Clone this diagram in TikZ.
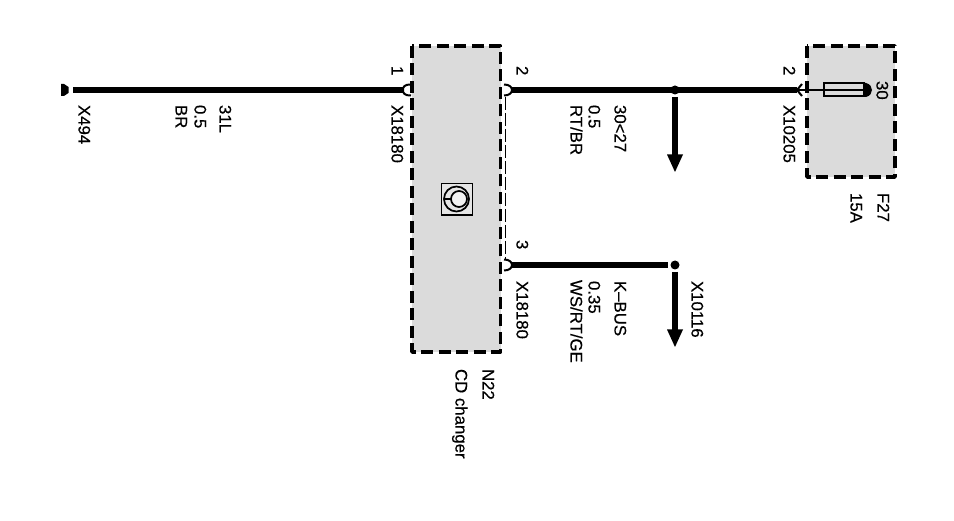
\documentclass[tikz,border=0pt]{standalone}
\usepackage{fontspec}
\setmainfont[FakeBold=0.4]{Liberation Sans}
\usetikzlibrary{calc}
\tikzset{
  x=1pt,y=-1pt,
  lbl/.style={rotate=-90,anchor=base west,inner sep=0pt,outer sep=0pt,font=\fontsize{16.8}{16.8}\selectfont,text=black,xshift=0pt,yshift=1.5pt},
  unitbox/.style={draw=black,fill=black!14,line width=3.8pt,dash pattern=on 12pt off 5.5pt,line join=round},
  wire/.style={line width=5.2pt,draw=black},
  pin/.style={line width=2pt,draw=black},
  thin wire/.style={line width=1.4pt,draw=black},
  shield/.style={line width=1.2pt,draw=black,dash pattern=on 13pt off 3pt},
  dotnode/.style={circle,fill=black,inner sep=0pt,minimum size=9pt},
  arrowhd/.style={fill=black,draw=none},
}
\begin{document}
\begin{tikzpicture}
\useasboundingbox (0,0) rectangle (954,521);
\fill[white] (0,0) rectangle (954,521);
% boxes
\path[unitbox] (412,46) rectangle (500.5,352);
\path[unitbox] (807,46) rectangle (895,177);
\coordinate (gnd) at (73,90);
\coordinate (p1) at (403,90);
\coordinate (p2) at (511,90);
\coordinate (p3) at (797,90);
\coordinate (p4) at (511,265);
\node[dotnode] (j1) at (675,90) {};
\node[dotnode] (j2) at (675,265) {};
\coordinate (a1) at (675,172);
\coordinate (a2) at (675,347);
% wires
\draw[wire] (gnd) -- (p1);
\draw[wire] (p2) -- (p3);
\draw[wire] (p4) -- (668,265);
\draw[wire] (675,97) -- (675,158);
\draw[wire] (675,272) -- (675,333);
% arrow heads
\fill[arrowhd] (667,154.5) -- (683,154.5) -- (a1) -- cycle;
\fill[arrowhd] (667,329.5) -- (683,329.5) -- (a2) -- cycle;
% pin marks
\draw[pin] (411,84.5) .. controls (404,84.5) and (403,87) .. (403,90) .. controls (403,93) and (404,95.5) .. (411,95.5);
\draw[pin] (504,84.5) .. controls (509,84.5) and (512,87) .. (512,90) .. controls (512,93) and (509,95.5) .. (504,95.5);
\draw[pin] (504,259.5) .. controls (509,259.5) and (512,262) .. (512,265) .. controls (512,268) and (509,270.5) .. (504,270.5);
\draw[pin] (802,84) -- (797,90) -- (802,96);
% shield
\draw[shield] (505.5,97) -- (505.5,259);
% fuse
\draw[thin wire] (p3) -- (868,90);
\draw[line width=2pt] (824,83.5) rectangle (864,96.5);
\fill[black] (864,83) -- (866,83) .. controls (870,84) and (872,87) .. (872,90) .. controls (872,93) and (870,96) .. (866,97) -- (864,97) -- cycle;
% ground
\fill[black] (61,84) -- (64,84) -- (68.5,87) -- (68.5,93) -- (64,96) -- (61,96) -- cycle;
% icon
\draw[line width=1.7pt,fill=black!10] (441.5,183.5) rectangle (472.5,215);
\draw[line width=1.7pt] (456.5,199) circle (12.5);
\draw[line width=1.7pt] (444,199) -- (451,199);
\draw[line width=1.7pt,fill=black!5] (459,199) circle (8);
% labels
\node[lbl] (tX494) at (77,105) {X494};
\node[lbl] (tBR) at (174,105) {BR};
\node[lbl] (t05a) at (193,105) {0.5};
\node[lbl] (t31L) at (218,105) {31L};
\node[lbl] (t1) at (390,66) {1};
\node[lbl] (tX1) at (390,105) {X18180};
\node[lbl] (t2a) at (515,66) {2};
\node[lbl] (tRT) at (569,105) {RT/BR};
\node[lbl] (t05b) at (587,105) {0.5};
\node[lbl] (t30a) at (613,105) {30<27};
\node[lbl] (t2b) at (782,66) {2};
\node[lbl] (tX2) at (782,105) {X10205};
\node[lbl] (t30b) at (875,81) {30};
\node[lbl] (t15) at (849,193) {15A};
\node[lbl] (tF) at (876,193) {F27};
\node[lbl] (t3) at (515,240) {3};
\node[lbl] (tX3) at (515,281) {X18180};
\node[lbl] (tWS) at (569,280) {WS/RT/GE};
\node[lbl] (t035) at (587,281) {0.35};
\node[lbl] (tK) at (613,281) {K--BUS};
\node[lbl] (tX4) at (690,281) {X10116};
\node[lbl] (tCD) at (454,369) {CD changer};
\node[lbl] (tN) at (481,369) {N22};
\end{tikzpicture}
\end{document}
